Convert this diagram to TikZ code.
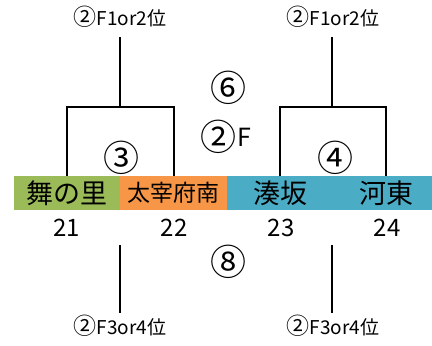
\documentclass[tikz,border=0pt]{standalone}
\usepackage{fontspec}
\setmainfont{Noto Sans CJK JP}
\usetikzlibrary{positioning}
\definecolor{teamgreen}{HTML}{9BBB59}
\definecolor{teamorange}{HTML}{F79646}
\definecolor{teamblue}{HTML}{4BACC6}
\newcommand{\circfont}{\fontsize{36}{36}\selectfont}
\tikzset{%
	team/.style   = {rectangle, minimum width=106.5pt, minimum height=34pt, inner sep=0pt, text centered},
	seed/.style   = {font=\fontsize{19}{19}\selectfont, inner sep=0pt, text height=14pt, text depth=3pt, outer sep=8pt},
	gamenum/.style= {font=\circfont, inner sep=0pt},
	slot/.style   = {font=\fontsize{24}{24}\selectfont, inner sep=0pt},
	bracket/.style= {line width=2pt},
}
\begin{document}
\begin{tikzpicture}[x=1pt,y=-1pt]
	\useasboundingbox (0,0) rectangle (432,346);
	% team boxes
	\fill[teamblue] (227,176) rectangle (432,210);
	\node[team,fill=teamgreen]  (mai) at (67,193)  {\fontsize{27}{27}\selectfont 舞の里};
	\node[team,fill=teamorange] (daz) at (173.5,193) {\fontsize{23}{23}\selectfont 太宰府南};
	\node[team] (min) at (280,193) {\fontsize{27}{27}\selectfont 湊坂};
	\node[team] (kat) at (386,193) {\fontsize{27}{27}\selectfont 河東};
	% slot numbers
	\node[slot] (n21) at (67,228)  {21};
	\node[slot] (n22) at (174,228) {22};
	\node[slot] (n23) at (281,228) {23};
	\node[slot] (n24) at (387,228) {24};
	% seeds
	\node[seed] (wl) at (120,20) {{\fontsize{23}{23}\selectfont ②}F1or2位};
	\node[seed] (wr) at (333,20) {{\fontsize{23}{23}\selectfont ②}F1or2位};
	\node[seed] (ll) at (120,329) {{\fontsize{23}{23}\selectfont ②}F3or4位};
	\node[seed] (lr) at (333,329) {{\fontsize{23}{23}\selectfont ②}F3or4位};
	% game numbers
	\node[gamenum] (g6) at (228,88)  {⑥};
	\node[gamenum] (g2) at (226,137) {②\kern1pt\raisebox{4pt}{\fontsize{25}{25}\selectfont F}};
	\node[gamenum] (g3) at (121,158) {③};
	\node[gamenum] (g4) at (335,158) {④};
	\node[gamenum] (g8) at (228,262) {⑧};
	% brackets
	\coordinate (jl) at (120,107);
	\coordinate (jr) at (332,107);
	\coordinate (bl) at (120,245);
	\coordinate (br) at (332,245);
	\draw[bracket] (mai.north) |- (jl) -| (daz.north);
	\draw[bracket] (min.north) |- (jr) -| (kat.north);
	\draw[bracket] (jl) -- (wl.south);
	\draw[bracket] (jr) -- (jr |- wr.south);
	\draw[bracket] (bl) -- (ll.north);
	\draw[bracket] (br) -- (br |- lr.north);
\end{tikzpicture}
\end{document}
